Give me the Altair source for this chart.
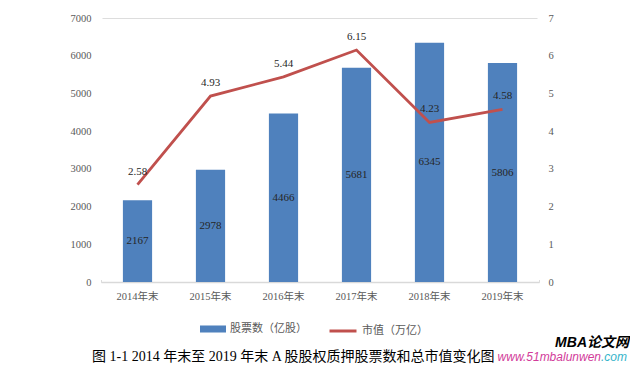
import altair as alt
import pandas as pd

years = ["2014年末", "2015年末", "2016年末", "2017年末", "2018年末", "2019年末"]
shares = [2167, 2978, 4466, 5681, 6345, 5806]
values = [2.58, 4.93, 5.44, 6.15, 4.23, 4.58]
bar_name = "股票数（亿股）"
line_name = "市值（万亿）"
caption = "图 1-1  2014 年末至 2019 年末 A 股股权质押股票数和总市值变化图"

df = pd.DataFrame({"year": years, "shares": shares, "value": values})
df["bar_series"] = bar_name
df["line_series"] = line_name

SERIF = "Liberation Serif, Times New Roman, Noto Sans CJK SC"
GRAY = "#595959"

base = alt.Chart(df)
xenc = alt.X("year:N", sort=years, title=None,
             scale=alt.Scale(paddingInner=0.6, paddingOuter=0.3),
             axis=alt.Axis(labelAngle=0, ticks=False, domain=True, domainColor="#D9D9D9",
                           domainWidth=1.5, labelColor=GRAY, labelFont=SERIF,
                           labelFontSize=10.5, labelPadding=9, grid=False))

left_axis = alt.Axis(values=list(range(0, 7001, 1000)), format="d", domain=False,
                     ticks=False, grid=False,
                     labelColor=GRAY, labelFont=SERIF, labelFontSize=10.5, labelPadding=10)
right_axis = alt.Axis(orient="right", values=list(range(0, 8)), format="d", domain=False,
                      ticks=False, grid=False,
                      labelColor=GRAY, labelFont=SERIF, labelFontSize=10.5, labelPadding=9)

bars = base.mark_bar(color="#4F81BD").encode(
    x=xenc,
    y=alt.Y("shares:Q", title=None, scale=alt.Scale(domain=[0, 7000]), axis=left_axis),
    color=alt.Color("bar_series:N", title=None,
                    scale=alt.Scale(range=["#4F81BD"]),
                    legend=alt.Legend(orient="none", legendX=99, legendY=298,
                                      symbolType="M-1,-0.27H1V0.27H-1Z", symbolSize=676,
                                      symbolStrokeWidth=0, padding=0, labelOffset=4,
                                      labelColor=GRAY, labelFont=SERIF, labelFontSize=11)),
)
bar_labels = base.transform_calculate(mid="datum.shares / 2").mark_text(
    font=SERIF, fontSize=11, color="#262626"
).encode(
    x=xenc,
    y=alt.Y("mid:Q", title=None, scale=alt.Scale(domain=[0, 7000]), axis=left_axis),
    text=alt.Text("shares:Q"),
)
left = alt.layer(bars, bar_labels)

line = base.mark_line(strokeWidth=2.8).encode(
    x=xenc,
    y=alt.Y("value:Q", title=None, scale=alt.Scale(domain=[0, 7]), axis=right_axis),
    stroke=alt.Stroke("line_series:N", title=None,
                      scale=alt.Scale(range=["#C0504D"]),
                      legend=alt.Legend(orient="none", legendX=227, legendY=298,
                                        symbolType="stroke", symbolSize=729,
                                        symbolStrokeWidth=3, padding=0, labelOffset=4,
                                        labelColor=GRAY, labelFont=SERIF, labelFontSize=11)),
)
line_labels = base.mark_text(font=SERIF, fontSize=11, color="#262626", dy=-13).encode(
    x=xenc,
    y=alt.Y("value:Q", title=None, scale=alt.Scale(domain=[0, 7]), axis=right_axis),
    text=alt.Text("value:Q", format=".2f"),
)
right = alt.layer(line, line_labels)

cap_df = pd.DataFrame({"t": [caption]})
cap = alt.Chart(cap_df).mark_text(align="left", baseline="middle", font=SERIF,
                                  fontSize=14, color="#000000").encode(
    x=alt.value(-9), y=alt.value(339), text="t:N")

wm1 = alt.Chart(pd.DataFrame({"t": ["MBA论文网"]})).mark_text(
    align="right", baseline="middle", font="Liberation Sans, Noto Sans CJK SC",
    fontSize=14, fontWeight="bold", fontStyle="italic", color="#000000").encode(
    x=alt.value(528), y=alt.value(325), text="t:N")
wm2 = alt.Chart(pd.DataFrame({"t": ["www.51mbalunwen"]})).mark_text(
    align="right", baseline="middle", font="Liberation Sans",
    fontSize=12, fontStyle="italic", color="#D23C9A").encode(
    x=alt.value(500), y=alt.value(339), text="t:N")
wm3 = alt.Chart(pd.DataFrame({"t": [".com"]})).mark_text(
    align="left", baseline="middle", font="Liberation Sans",
    fontSize=12, fontStyle="italic", color="#35B4CA").encode(
    x=alt.value(500), y=alt.value(339), text="t:N")

edge_l = alt.Chart(pd.DataFrame({"t": [0]})).mark_rule(color="white", strokeWidth=3).encode(
    x=alt.value(0), y=alt.value(-1), y2=alt.value(262))
edge_r = alt.Chart(pd.DataFrame({"t": [0]})).mark_rule(color="white", strokeWidth=3).encode(
    x=alt.value(438), y=alt.value(-1), y2=alt.value(262))

chart = alt.layer(left, right, cap, wm1, wm2, wm3, edge_l, edge_r).resolve_scale(
    y="independent"
).properties(
    width=438, height=264,
    autosize=alt.AutoSizeParams(type="none"),
    padding={"left": 93, "top": 10, "right": 91, "bottom": 83},
).configure_view(stroke=None).configure_axisY(domain=False, grid=False, ticks=False).configure(
    background="white")

chart.save("out.html", embed_options={"renderer": "svg", "actions": False})
